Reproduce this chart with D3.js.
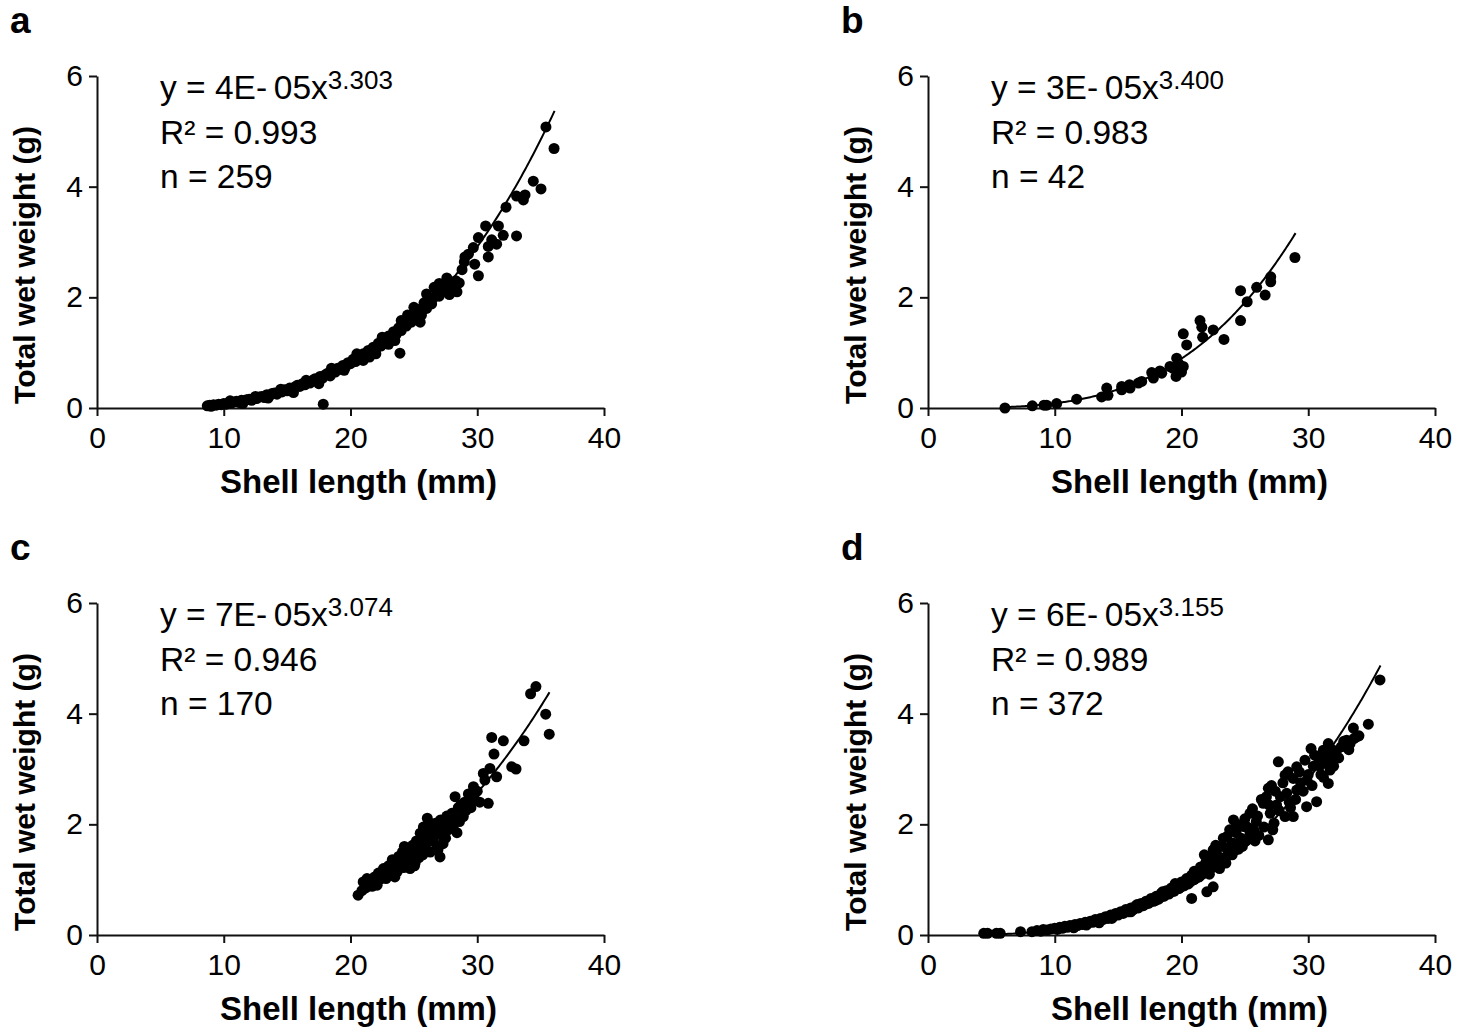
<!DOCTYPE html>
<html>
<head>
<meta charset="utf-8">
<script src="https://cdn.jsdelivr.net/npm/d3@7"></script>
<style>
  body { margin: 0; background: #fff; }
  svg text { font-family: "Liberation Sans", Arial, sans-serif; fill: #000; }
</style>
</head>
<body>
<svg></svg>
<script>
const w = 1471;
const h = 1034;

const xTicks = [0, 10, 20, 30, 40];
const yTicks = [0, 2, 4, 6];
const panelLabels = ['a', 'b', 'c', 'd'];
const eqCoef = ['4E-\u200905', '3E-\u200905', '7E-\u200905', '6E-\u200905'];
const eqExp = ['3.303', '3.400', '3.074', '3.155'];
const r2Vals = ['0.993', '0.983', '0.946', '0.989'];
const nVals = [259, 42, 170, 372];
// unrounded coefficients
const fitCoef = [3.85e-5, 3.37e-5, 7.4e-5, 6.15e-5];
const fitExp = [3.303, 3.4, 3.074, 3.155];
const fitFrom = [8.7, 6.0, 20.6, 4.4];
const fitTo = [36.1, 29.0, 35.7, 35.7];

// shell length (mm), total wet weight (g)
const pointsA = [
  [8.7,0.04],[8.9,0.05],[9.0,0.03],[9.2,0.06],[9.4,0.05],[9.6,0.07],[9.8,0.06],[10.0,0.08],
  [10.2,0.07],[10.4,0.10],[10.6,0.09],[10.8,0.11],[11.0,0.12],[11.2,0.10],[11.4,0.14],[11.6,0.13],
  [11.8,0.15],[12.0,0.16],[12.2,0.14],[12.4,0.18],[12.6,0.17],[12.8,0.20],[13.0,0.21],[13.2,0.19],
  [13.4,0.24],[13.6,0.22],[13.8,0.26],[14.0,0.27],[14.2,0.25],[14.4,0.30],[14.6,0.29],[14.8,0.33],
  [15.0,0.31],[15.2,0.36],[15.4,0.34],[15.6,0.38],[15.8,0.41],[16.0,0.39],[16.2,0.44],[16.4,0.42],
  [16.6,0.47],[16.8,0.45],[17.0,0.50],[17.2,0.53],[17.4,0.49],[17.6,0.57],[17.8,0.54],[17.85,0.07],
  [18.0,0.60],[18.2,0.63],[18.4,0.58],[18.6,0.68],[18.8,0.65],[19.0,0.72],[19.2,0.70],[19.4,0.77],
  [19.6,0.74],[19.8,0.82],[20.0,0.80],[20.2,0.88],[20.4,0.84],[20.6,0.93],[20.8,0.90],[21.0,0.98],
  [21.2,0.95],[21.4,1.04],[21.6,1.00],[21.8,1.10],[22.0,1.06],[22.2,1.17],[22.4,1.12],[22.6,1.22],
  [22.8,1.18],[23.0,1.30],[23.2,1.25],[23.4,1.38],[23.6,1.33],[23.8,1.45],[23.9,0.99],[24.0,1.40],
  [24.2,1.55],[24.4,1.48],[24.6,1.62],[24.8,1.55],[25.0,1.70],[25.2,1.60],[25.4,1.78],[25.6,1.68],
  [25.8,1.90],[26.0,1.80],[26.2,2.00],[26.4,1.88],[26.6,2.18],[26.8,2.05],[27.0,2.25],[27.2,2.10],
  [27.3,2.15],[27.5,2.25],[27.8,2.05],[28.0,2.20],[28.3,2.30],[28.4,2.10],[28.58,2.26],[28.98,2.64],
  [29.03,2.73],[29.3,2.78],[29.69,2.90],[29.8,2.60],[30.09,2.39],[30.09,3.08],[30.66,3.29],[30.87,2.92],
  [30.87,2.73],[31.14,3.04],[31.53,2.96],[31.67,3.29],[32.05,3.12],[32.27,3.63],[33.1,3.11],[33.1,3.83],
  [33.64,3.76],[33.77,3.85],[34.42,4.10],[35.03,3.96],[35.42,5.08],[36.06,4.69],
  [10.5,0.13],[11.5,0.08],[12.5,0.21],[13.5,0.18],[14.5,0.34],[15.5,0.28],[16.5,0.50],[17.5,0.44],
  [18.5,0.72],[19.5,0.68],[20.5,0.98],[21.5,0.92],[22.5,1.28],[23.5,1.22],[24.5,1.68],[25.5,1.55],
  [26.5,1.98],[27.6,2.35],[27.0,2.02],[28.8,2.50],[26.0,2.06],[25.0,1.82],[24.0,1.58],[23.0,1.15],
  [22.0,0.98],[21.0,0.86]
];

const pointsB = [
  [6.07,0.0],[8.23,0.04],[9.15,0.05],[9.36,0.05],[10.15,0.08],[11.73,0.16],[13.7,0.20],[14.1,0.36],
  [14.2,0.23],[15.28,0.39],[15.28,0.33],[15.9,0.42],[15.94,0.36],[16.6,0.45],[16.86,0.48],[17.65,0.64],
  [17.78,0.54],[18.3,0.67],[18.44,0.63],[19.09,0.75],[19.3,0.72],[19.57,0.57],[19.62,0.90],[19.75,0.81],
  [20.0,0.65],[20.14,0.75],[20.14,1.34],[20.41,1.14],[21.46,1.58],[21.6,1.46],[21.67,1.28],[22.5,1.41],
  [23.35,1.24],[24.66,2.12],[24.66,1.58],[25.18,1.92],[25.93,2.18],[26.6,2.04],[27.04,2.37],[27.04,2.28],
  [28.95,2.72]
];

const pointsC = [
  [20.6,0.72],[20.9,0.80],[21.0,0.96],[21.2,0.85],[21.4,0.92],[21.5,1.00],[21.7,0.88],[21.9,1.05],
  [22.0,0.95],[22.2,1.12],[22.3,1.00],[22.5,1.08],[22.6,1.20],[22.8,1.02],[22.9,1.15],[23.0,1.25],
  [23.2,1.10],[23.3,1.36],[23.4,1.20],[23.6,1.30],[23.7,1.15],[23.8,1.42],[23.9,1.25],[24.0,1.35],
  [24.1,1.50],[24.2,1.22],[24.3,1.45],[24.4,1.30],[24.5,1.55],[24.6,1.40],[24.7,1.20],[24.8,1.36],
  [24.9,1.62],[25.0,1.48],[25.1,1.30],[25.2,1.70],[25.3,1.55],[25.4,1.40],[25.5,1.84],[25.6,1.62],
  [25.7,1.45],[25.8,1.75],[25.9,1.55],[26.0,1.90],[26.06,2.11],[26.1,1.68],[26.2,1.80],[26.3,1.50],
  [26.4,1.95],[26.5,1.72],[26.6,1.85],[26.7,2.02],[26.8,1.62],[26.9,1.54],[27.0,1.92],[27.06,1.41],
  [27.1,2.08],[27.2,1.80],[27.4,2.00],[27.5,1.75],[27.6,2.15],[27.7,1.90],[27.8,2.05],[28.0,2.20],
  [28.1,1.95],[28.25,2.50],[28.3,2.10],[28.5,2.30],[28.6,2.05],[28.7,2.35],[28.9,2.14],[29.0,2.40],
  [29.1,2.25],[29.3,2.55],[29.5,2.30],[29.56,2.47],[29.7,2.68],[29.8,2.45],[30.0,2.60],[30.2,2.40],
  [30.48,2.92],[30.6,2.80],[30.87,2.38],[31.0,3.01],[31.14,3.57],[31.32,3.27],[31.53,2.86],[32.06,3.51],
  [32.72,3.04],[33.06,3.0],[33.69,3.51],[34.21,4.36],[34.63,4.49],[35.4,3.99],[35.68,3.63],
  [21.3,1.02],[22.1,0.90],[22.7,1.12],[23.5,1.05],[24.25,1.60],[25.05,1.25],[25.75,1.95],[26.35,2.00],
  [27.3,1.65],[28.4,1.85]
];

const pointsD = [
  [4.4,0.03],[4.7,0.03],[5.4,0.03],[5.7,0.03],[7.3,0.06],[8.2,0.06],[8.6,0.08],[8.9,0.07],
  [9.1,0.10],[9.4,0.09],[9.7,0.11],[10.0,0.12],[10.2,0.10],[10.4,0.14],[10.6,0.12],[10.8,0.16],
  [11.0,0.14],[11.2,0.17],[11.4,0.15],[11.6,0.19],[11.8,0.17],[12.0,0.21],[12.2,0.19],[12.4,0.23],
  [12.6,0.21],[12.8,0.25],[13.0,0.23],[13.2,0.28],[13.4,0.25],[13.6,0.30],[13.8,0.28],[14.0,0.33],
  [14.2,0.30],[14.4,0.36],[14.6,0.33],[14.8,0.39],[15.0,0.36],[15.2,0.42],[15.4,0.39],[15.6,0.46],
  [15.8,0.42],[16.0,0.49],[16.2,0.46],[16.4,0.53],[16.6,0.49],[16.8,0.57],[17.0,0.53],[17.2,0.61],
  [17.4,0.57],[17.6,0.66],[17.8,0.61],[18.0,0.70],[18.2,0.65],[18.4,0.75],[18.6,0.70],[18.8,0.80],
  [19.0,0.74],[19.2,0.85],[19.4,0.79],[19.6,0.90],[19.8,0.84],[20.0,0.96],[20.2,0.89],[20.4,1.02],
  [20.6,0.94],[20.8,0.66],[20.8,1.08],[21.0,1.00],[21.2,1.15],[21.4,1.05],[21.5,1.23],[21.7,1.12],
  [21.9,1.30],[22.0,0.78],[22.0,1.36],[22.1,1.18],[22.3,1.40],[22.5,0.87],[22.5,1.54],[22.6,1.25],
  [22.8,1.45],[23.0,1.32],[23.2,1.60],[23.4,1.40],[23.6,1.78],[23.7,1.50],[23.9,1.62],[24.1,2.08],
  [24.1,1.66],[24.3,1.85],[24.5,1.55],[24.7,1.75],[24.9,1.96],[25.1,1.70],[25.4,2.20],[25.4,1.85],
  [25.7,1.90],[25.9,2.05],[26.1,1.80],[26.45,2.38],[26.7,2.50],[26.85,2.65],[26.85,1.72],[27.0,2.20],
  [27.3,2.02],[27.5,2.35],[27.64,3.13],[27.8,2.50],[28.17,2.89],[28.17,2.14],[28.3,2.56],[28.5,2.40],
  [28.82,2.83],[28.82,2.14],[29.09,3.04],[29.09,2.62],[29.4,2.75],[29.74,3.16],[29.87,2.32],[30.0,2.90],
  [30.22,3.37],[30.4,3.05],[30.66,2.41],[30.8,3.20],[31.0,2.90],[31.19,3.34],[31.4,3.10],[31.58,3.46],
  [31.58,2.74],[31.72,2.98],[31.85,3.22],[32.2,3.30],[32.6,3.40],[33.03,3.52],[33.3,3.46],[33.56,3.74],
  [33.82,3.58],[34.74,3.81],[35.66,4.61],
  [21.8,1.45],[22.2,1.10],[22.7,1.62],[23.0,1.20],[23.3,1.75],[23.5,1.30],[23.8,1.90],[24.0,1.45],
  [24.4,2.00],[24.8,1.60],[25.0,2.10],[25.2,1.95],[25.6,2.28],[25.8,1.70],[26.0,2.15],[26.3,2.45],
  [26.5,1.95],[26.9,2.35],[27.1,2.70],[27.2,1.90],[27.4,2.60],[27.7,2.25],[28.0,2.75],[28.4,2.95],
  [28.6,2.30],[29.0,2.45],[29.3,2.95],[29.6,2.60],[29.9,2.80],[30.3,2.70],[30.5,3.25],[30.9,3.05],
  [31.2,2.85],[31.5,3.25],[31.9,3.35],[32.0,3.05],[32.4,3.20],[32.8,3.50],[33.2,3.35],[33.6,3.55],
  [34.0,3.60],[11.5,0.13],[12.5,0.18],[13.5,0.22],[14.5,0.30],[15.5,0.43],[16.5,0.55],[17.5,0.62],
  [18.5,0.78],[19.5,0.93],[20.5,0.92],[21.0,1.15],[16.0,0.42],[18.0,0.63]
];

const allPoints = [pointsA, pointsB, pointsC, pointsD];

const svg = d3.select('svg').attr('width', w).attr('height', h);

const plotW = 507;
const plotH = 332;
const lefts = [97, 928, 97, 928];
const tops = [76, 76, 603, 603];

const xScale = d3.scaleLinear().domain([0, 40]).range([0, plotW]);
const yScale = d3.scaleLinear().domain([0, 6]).range([plotH, 0]);

allPoints.forEach((pts, i) => {
  const g = svg.append('g').attr('transform', `translate(${lefts[i]}, ${tops[i]})`);

  // panel letter
  svg.append('text')
    .attr('x', lefts[i] - 87)
    .attr('y', tops[i] - 43)
    .attr('font-size', 37)
    .attr('font-weight', 'bold')
    .text(panelLabels[i]);

  const xAxis = d3.axisBottom(xScale).tickValues(xTicks).tickFormat(d3.format('d'))
    .tickSize(8).tickSizeOuter(0).tickPadding(11);
  const yAxis = d3.axisLeft(yScale).tickValues(yTicks).tickFormat(d3.format('d'))
    .tickSize(8).tickSizeOuter(0).tickPadding(6);

  const gx = g.append('g').attr('transform', `translate(0, ${plotH})`).call(xAxis);
  const gy = g.append('g').call(yAxis);
  [gx, gy].forEach((ax) => {
    ax.select('.domain').attr('stroke', '#111').attr('stroke-width', 2);
    ax.selectAll('.tick line').attr('stroke', '#111').attr('stroke-width', 2);
    ax.selectAll('.tick text')
      .attr('font-size', 30)
      .attr('font-family', '"Liberation Sans", Arial, sans-serif')
      .attr('fill', '#000');
  });

  // axis titles
  g.append('text')
    .attr('x', plotW / 2 + 8)
    .attr('y', plotH + 85)
    .attr('text-anchor', 'middle')
    .attr('font-size', 33)
    .attr('font-weight', 'bold')
    .text('Shell length (mm)');

  g.append('text')
    .attr('transform', `translate(${-62}, ${plotH / 2 + 23}) rotate(-90)`)
    .attr('text-anchor', 'middle')
    .attr('font-size', 30)
    .attr('font-weight', 'bold')
    .text('Total wet weight (g)');

  // points
  g.selectAll('circle')
    .data(pts)
    .enter()
    .append('circle')
    .attr('cx', (d) => xScale(d[0]))
    .attr('cy', (d) => yScale(d[1]))
    .attr('r', 5.5)
    .attr('fill', '#000');

  // power fit
  const fx = d3.range(fitFrom[i], fitTo[i], 0.1).concat([fitTo[i]]);
  const line = d3.line()
    .x((d) => xScale(d))
    .y((d) => yScale(fitCoef[i] * Math.pow(d, fitExp[i])));
  g.append('path')
    .datum(fx)
    .attr('d', line)
    .attr('fill', 'none')
    .attr('stroke', '#000')
    .attr('stroke-width', 2);

  // equation block
  const eq = g.append('text').attr('x', 63).attr('y', 23).attr('font-size', 33.5);
  eq.append('tspan').text(`y = ${eqCoef[i]}x`);
  eq.append('tspan').attr('font-size', 26).attr('dy', -10).text(eqExp[i]);
  g.append('text').attr('x', 63).attr('y', 68).attr('font-size', 33.5).text(`R² = ${r2Vals[i]}`);
  g.append('text').attr('x', 63).attr('y', 112).attr('font-size', 33.5).text(`n = ${nVals[i]}`);
});
</script>
</body>
</html>
